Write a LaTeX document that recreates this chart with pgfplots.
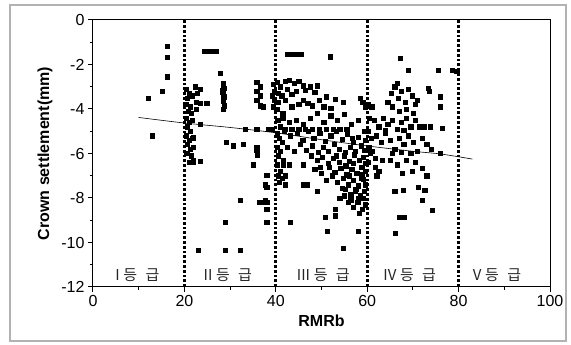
\documentclass[border=0pt]{standalone}
\usepackage{fontspec}
\setmainfont{Liberation Sans}
\newfontfamily\kr{Noto Sans CJK KR}
\usepackage{pgfplots}
\pgfplotsset{compat=1.18}
\newcommand\grade[1]{#1\hspace{0.25em}등\hspace{0.55em}급}
\begin{document}
\begin{tikzpicture}
\path[use as bounding box] (-93pt,-58pt) rectangle (478pt,287pt);
\begin{axis}[
  scale only axis, width=457pt, height=267pt,
  xmin=0, xmax=100, ymin=-12, ymax=0,
  xtick={0,20,40,60,80,100}, xticklabels={0,20,40,60,80,100},
  ytick={-12,-10,-8,-6,-4,-2,0}, yticklabels={-12,-10,-8,-6,-4,-2,0},
  minor tick num=1,
  tick align=outside, xtick pos=left, ytick pos=left,
  major tick length=5pt, minor tick length=3pt,
  axis line style={line width=1pt},
  every tick/.style={line width=1pt, black},
  tick label style={font=\fontsize{16}{16}\selectfont},
  xlabel={\bfseries RMRb}, ylabel={\bfseries Crown settlement(mm)},
  label style={font=\fontsize{16}{16}\selectfont},
  xlabel style={yshift=-1pt},
  ylabel style={yshift=2pt},
  clip=false,
]
% zone boundaries
\addplot[line width=3pt, dash pattern=on 2.8pt off 2pt] coordinates {(20,-12) (20,0)};
\addplot[line width=3pt, dash pattern=on 2.8pt off 2pt] coordinates {(40,-12) (40,0)};
\addplot[line width=3pt, dash pattern=on 2.8pt off 2pt] coordinates {(60,-12) (60,0)};
\addplot[line width=3pt, dash pattern=on 2.8pt off 2pt] coordinates {(80,-12) (80,0)};
% data
\addplot[only marks, mark=square*, mark size=2.1pt, black] coordinates {
(12,-3.5) (15.1,-3.2) (16.2,-2.55) (16.2,-1.66) (16.2,-1.17) (12.9,-5.2)
(20.4,-3.1) (21.0,-3.3) (20.6,-3.5) (21.6,-3.4) (20.3,-3.8) (21.2,-3.9) (20.8,-4.1) (21.5,-4.2)
(20.4,-4.4) (21.0,-4.6) (21.7,-4.5) (20.6,-4.8) (21.3,-5.0) (20.4,-5.2) (21.0,-5.4) (21.8,-5.3)
(20.6,-5.6) (21.3,-5.8) (20.5,-6.0) (21.5,-6.1) (22.0,-6.3) (21.0,-6.4) (22.4,-3.0) (22.8,-3.3)
(23.4,-3.1) (22.6,-3.7) (23.5,-3.75) (24.9,-3.75) (23.4,-4.7) (21.9,-5.25) (21.9,-5.7) (23.4,-6.35)
(21.9,-6.4) (22.5,-4.0)
(24.3,-1.4) (25.2,-1.4) (26.1,-1.4) (27.0,-1.4) (27.8,-2.4) (28.5,-2.85) (28.6,-3.05) (28.4,-3.25)
(28.6,-3.45) (28.5,-3.65) (28.7,-3.85) (28.5,-4.0) (28.2,-3.15)
(35.8,-2.8) (36.5,-3.0) (35.8,-3.2) (36.5,-3.4) (35.8,-3.6) (36.6,-3.85) (37.3,-3.9)
(39.5,-2.9) (39.6,-3.2) (39.2,-3.4) (39.7,-3.6) (39.5,-3.9)
(33.3,-4.9) (35.8,-4.9) (38.3,-4.9) (39.2,-4.9)
(29.1,-5.5) (30.6,-5.65) (32.8,-5.6) (35.8,-5.7) (35.8,-5.85) (35.9,-6.05) (35,-6.5) (38,-6.97) (38,-7.5)
(32.2,-8.1) (36.3,-8.2) (37.2,-8.2) (38.1,-8.2) (38,-8.5) (38,-9.1) (28.9,-9.1)
(23,-10.35) (28.9,-10.35) (32.2,-10.35) (37.6,-7.4) (37.6,-8.1)
(40.3,-2.8) (41,-3.0) (40.5,-3.3) (41.3,-3.4) (40.6,-3.7) (40.2,-4.0) (41.5,-4.2) (40.4,-4.5)
(41.0,-4.8) (40.3,-5.1) (40.8,-5.3) (41.4,-5.5) (40.3,-5.7) (41.0,-5.9) (40.6,-6.1) (41.6,-6.3)
(40.3,-6.5) (41.0,-6.8) (40.5,-7.0) (41.4,-7.1) (40.8,-7.3) (42,-7.4)
(42.5,-1.55) (43.5,-1.55) (44.5,-1.55) (45.5,-1.55) (51.9,-1.65)
(42,-2.75) (43,-2.7) (44,-2.85) (45,-2.75) (46,-2.95) (47.5,-3.0) (49,-2.95) (42.5,-3.1) (44.5,-3.2)
(46.5,-3.15) (48.5,-3.25) (43.5,-3.35)
(42,-3.6) (43.5,-3.9) (45,-3.8) (46,-3.6) (47,-3.75) (48,-3.85) (49.5,-3.6) (50.5,-3.9) (52,-3.95)
(54.7,-3.7) (58.5,-3.5) (59,-3.7) (59.5,-3.9) (51,-3.45) (53,-3.55)
(41.5,-4.4) (43,-4.6) (44.5,-4.5) (46,-4.7) (47.5,-4.4) (49,-4.2) (50.5,-4.6) (52,-4.3) (53.5,-4.5)
(55,-4.25) (56.5,-4.7) (58,-4.5) (42,-4.9) (43.5,-4.9) (45,-4.9) (46.5,-4.9) (48,-4.9) (49.5,-4.9)
(51,-4.9) (52.5,-4.9) (54,-4.9) (55.5,-4.9)
(41.8,-5.0) (43.2,-5.2) (44.6,-5.1) (45.9,-5.4) (47.1,-5.0) (48.3,-5.3) (49.6,-5.1) (50.8,-5.45)
(52.0,-5.2) (53.3,-5.0) (54.5,-5.35) (55.7,-5.15) (56.9,-5.5) (58.1,-5.25) (59.3,-5.0) (59.6,-5.4)
(42.5,-5.7) (44.0,-5.9) (45.3,-5.6) (46.7,-5.85) (48.0,-5.65) (49.2,-5.95) (50.3,-5.7) (51.5,-5.9)
(52.7,-5.6) (53.9,-5.8) (55.1,-5.95) (56.2,-5.7) (57.4,-5.9) (58.6,-5.65) (59.4,-5.85)
(41.6,-6.5) (43,-6.5) (46,-6.5) (47.8,-6.1) (49.0,-6.3) (50.2,-6.15) (51.4,-6.45) (52.6,-6.2)
(53.8,-6.4) (55.0,-6.1) (56.1,-6.35) (57.2,-6.05) (58.3,-6.3) (59.2,-6.15) (59.6,-6.45)
(42,-7.0) (48.5,-6.7) (50.0,-6.9) (51.6,-6.6) (52.9,-6.85) (54.2,-6.65) (55.5,-6.95) (56.6,-6.7)
(57.7,-6.9) (58.8,-6.6) (59.5,-6.8)
(46,-7.4) (46.8,-7.4) (51,-7.2) (53.5,-7.3) (54.8,-7.1) (55.9,-7.4) (57.0,-7.2) (58.1,-7.45)
(59.1,-7.15) (59.6,-7.4)
(49,-7.7) (54,-8.0) (55.2,-7.6) (56.4,-7.85) (57.5,-7.6) (58.5,-7.9) (59.4,-7.7)
(53,-8.5) (53,-8.8) (55.8,-8.2) (56.9,-8.4) (57.9,-8.2) (58.9,-8.5) (59.5,-8.3) (58.2,-8.7) (50.8,-8.85)
(54.6,-7.55) (56.0,-7.0) (57.3,-7.7) (58.6,-7.1) (59.0,-8.0) (56.4,-8.1) (55.3,-6.55) (57.0,-6.45)
(58.0,-8.0) (54.9,-7.9) (53.2,-6.1) (49.8,-6.6) (56.7,-5.3) (52.3,-7.0) (58.9,-6.95)
(43.1,-9.1) (51.2,-9.5) (58,-9.5) (54.7,-10.25)
(60.3,-3.8) (60.5,-4.4) (60.3,-5.0) (60.8,-5.3) (60.4,-5.7) (60.6,-6.0) (60.3,-6.4) (61,-5.9)
(61.7,-6.2) (61.7,-6.6) (62.1,-7) (63.2,-6.3)
(67.2,-1.7) (68.9,-2.25) (75.5,-2.25) (78.6,-2.25) (79.6,-2.3) (66.5,-2.85) (73.3,-3.05) (73.6,-3.2)
(75.9,-3.45) (75.9,-3.9) (61,-3.9)
(65.2,-3.3) (66,-3.0) (66.8,-3.5) (67.5,-3.2) (68.3,-3.7) (69,-3.1) (69.8,-3.4) (70.5,-3.8)
(65.5,-3.9) (67,-4.1) (68.6,-4.0) (70,-4.2) (71,-3.6) (64.5,-3.7)
(61.5,-4.5) (62.5,-4.8) (63.5,-4.4) (64.5,-4.7) (65.5,-4.5) (66.5,-4.9) (67.5,-4.6) (68.5,-4.4)
(69.5,-4.8) (70.5,-4.5) (71.5,-4.8) (72.5,-4.8) (73.7,-4.8) (76.4,-4.85) (64,-4.95) (68,-4.95)
(62,-5.2) (63,-5.5) (64,-5.1) (65,-5.4) (66,-5.8) (67,-5.3) (68,-5.6) (69,-5.2) (70,-5.5)
(71,-5.9) (72,-5.3) (73,-5.6) (74,-5.8) (65.5,-6.0) (67.5,-5.95) (69.5,-6.0) (75.9,-6.0)
(67.6,-6.9) (69.8,-6.8) (72,-6.65) (73,-7) (66,-7.7) (67.8,-7.65) (71.1,-7.5) (72.6,-7.65)
(72,-8.1) (74.2,-8.55) (67,-8.85) (68,-8.85) (66.1,-9.6) (65,-6.3) (66.5,-6.5) (68.5,-6.3)
(70.5,-6.4) (62.5,-6.8)
};
% fitted curve
\addplot[smooth, line width=0.6pt, black] coordinates {(10,-4.38) (20,-4.63) (30,-4.83) (40,-5.07) (50,-5.38) (60,-5.66) (70,-5.9) (76,-6.02) (83,-6.25)};
% grade labels
\path (axis cs:9.7,-11.45) node[font=\kr\fontsize{15}{15}\selectfont, black!85] {\grade{I}};
\path (axis cs:29.5,-11.45) node[font=\kr\fontsize{15}{15}\selectfont, black!85] {\grade{II}};
\path (axis cs:50.4,-11.45) node[font=\kr\fontsize{15}{15}\selectfont, black!85] {\grade{III}};
\path (axis cs:69.3,-11.45) node[font=\kr\fontsize{15}{15}\selectfont, black!85] {\grade{IV}};
\path (axis cs:88.4,-11.45) node[font=\kr\fontsize{15}{15}\selectfont, black!85] {\grade{V}};
\end{axis}
\draw[gray!60, line width=1.2pt] (-83pt,-54pt) rectangle (473pt,282pt);
\end{tikzpicture}
\end{document}
